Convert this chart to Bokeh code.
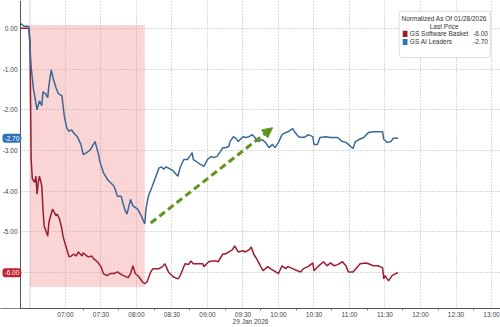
import pandas as pd
from bokeh.plotting import figure
from bokeh.models import (Range1d, FixedTicker, DatetimeTickFormatter, Label,
                          BoxAnnotation, Arrow, NormalHead, Span)
from bokeh.embed import file_html
from bokeh.resources import INLINE

DAY = "2026-01-29"

# GS AI Leaders (normalized as of 01/28/2026)
ai_times = ["06:22","06:25","06:29","06:31","06:33","06:35","06:36","06:38","06:40","06:41",
            "06:43","06:45","06:46","06:48","06:50","06:52","06:54","06:57","06:59","07:01",
            "07:03","07:05","07:08","07:10","07:13","07:15","07:18","07:21","07:25","07:28",
            "07:29","07:32","07:36","07:41","07:44","07:47","07:50","07:52","07:55","07:57",
            "08:01","08:04","08:07","08:08","08:10","08:13","08:16","08:19","08:21","08:23",
            "08:25","08:29","08:31","08:35","08:37","08:40","08:43","08:46","08:47","08:48",
            "08:52","08:54","08:57","09:00","09:03","09:05","09:08","09:11","09:13","09:15",
            "09:18","09:19","09:22","09:25","09:26","09:30","09:32","09:35","09:38","09:40",
            "09:43","09:46","09:49","09:52","09:55","09:57","10:00","10:03","10:06","10:08",
            "10:12","10:14","10:17","10:20","10:23","10:25","10:29","10:30","10:33","10:35",
            "10:40","10:44","10:50","10:54","10:57","10:59","11:01","11:03","11:05","11:08",
            "11:12","11:16","11:20","11:24","11:28","11:29","11:32","11:35","11:37","11:41"]
ai_values = [0.12,0.05,0.05,-0.95,-1.50,-1.83,-2.00,-1.78,-1.90,-1.56,
             -1.60,-1.70,-1.40,-1.02,-1.27,-1.46,-1.60,-1.66,-2.15,-2.44,
             -2.53,-2.49,-2.60,-2.66,-2.85,-3.10,-3.05,-2.98,-2.78,-3.10,
             -3.26,-3.54,-3.73,-3.87,-4.12,-4.12,-4.44,-4.56,-4.20,-4.36,
             -4.44,-4.60,-4.80,-4.44,-4.12,-3.90,-3.67,-3.43,-3.40,-3.46,
             -3.40,-3.46,-3.50,-3.63,-3.41,-3.22,-3.22,-3.10,-3.05,-3.22,
             -3.30,-3.34,-3.39,-3.22,-3.15,-3.17,-3.15,-3.02,-2.93,-2.93,
             -2.90,-2.78,-2.66,-2.73,-2.78,-2.66,-2.68,-2.66,-2.61,-2.68,
             -2.78,-2.73,-2.80,-2.93,-2.85,-2.93,-2.80,-2.61,-2.56,-2.54,
             -2.46,-2.56,-2.66,-2.68,-2.66,-2.61,-2.66,-2.85,-2.85,-2.68,
             -2.66,-2.68,-2.68,-2.78,-2.80,-2.85,-2.90,-2.95,-2.78,-2.73,
             -2.68,-2.56,-2.54,-2.54,-2.54,-2.73,-2.80,-2.78,-2.70,-2.70]

# GS Software Basket
sw_times = ["06:22","06:29","06:30","06:31","06:32","06:34","06:35","06:36","06:37","06:38",
            "06:40","06:41","06:42","06:45","06:46","06:49","06:50","06:52","06:53","06:55",
            "06:57","06:58","07:01","07:03","07:05","07:07","07:09","07:11","07:14","07:15",
            "07:18","07:20","07:22","07:24","07:27","07:30","07:32","07:35","07:38","07:41",
            "07:44","07:46","07:49","07:53","07:55","07:57","07:59","08:02","08:05","08:07",
            "08:09","08:12","08:14","08:19","08:22","08:24","08:27","08:31","08:35","08:37",
            "08:41","08:44","08:46","08:48","08:52","08:56","08:57","09:01","09:04","09:07",
            "09:09","09:13","09:15","09:18","09:21","09:23","09:26","09:30","09:32","09:35",
            "09:37","09:39","09:42","09:45","09:47","09:51","09:53","09:56","10:00","10:03",
            "10:06","10:08","10:12","10:16","10:19","10:21","10:25","10:29","10:30","10:34",
            "10:38","10:41","10:44","10:47","10:50","10:54","10:57","10:59","11:03","11:07",
            "11:09","11:14","11:16","11:20","11:24","11:28","11:29","11:30","11:33","11:36",
            "11:39","11:41"]
sw_values = [0.00,0.00,-0.30,-3.20,-3.70,-3.78,-3.63,-4.07,-3.78,-3.63,
             -3.87,-4.44,-4.85,-5.10,-4.76,-4.44,-4.49,-4.60,-4.56,-4.68,
             -4.93,-5.12,-5.41,-5.61,-5.59,-5.54,-5.59,-5.49,-5.59,-5.51,
             -5.59,-5.61,-5.59,-5.66,-5.73,-5.85,-6.02,-6.07,-6.02,-6.02,
             -5.98,-6.02,-6.07,-6.12,-6.02,-5.83,-6.02,-6.10,-6.22,-6.27,
             -6.22,-5.98,-5.90,-5.90,-5.85,-5.78,-5.98,-6.10,-6.15,-6.07,
             -5.78,-5.80,-5.71,-5.78,-5.78,-5.78,-5.85,-5.73,-5.71,-5.71,
             -5.73,-5.54,-5.54,-5.49,-5.44,-5.34,-5.49,-5.46,-5.49,-5.44,
             -5.37,-5.54,-5.68,-5.85,-5.95,-5.85,-5.90,-5.95,-6.02,-5.83,
             -5.90,-5.85,-5.90,-5.95,-5.98,-5.90,-5.85,-5.76,-5.95,-5.83,
             -5.73,-5.83,-5.76,-5.83,-5.80,-5.73,-5.83,-5.98,-5.98,-5.85,
             -5.78,-5.76,-5.78,-5.83,-5.83,-5.88,-6.15,-6.07,-6.20,-6.07,
             -6.02,-6.00]

# shaded selloff window
shade_start = ["06:30"]
shade_end = ["08:07"]
shade_top = [0.08]
shade_bottom = [-6.35]

# trend arrow
arrow_start = ("08:12", -4.78)
arrow_end = ("09:55", -2.44)

tick_labels = ["07:00","07:30","08:00","08:30","09:00","09:30","10:00","10:30",
               "11:00","11:30","12:00","12:30","13:00"]
y_ticks = [0, -1, -2, -3, -4, -5, -6]

last_sw = -6.00
last_ai = -2.70

FONT = "Liberation Sans"
BLUE = "#3a6896"
RED = "#9e1c2f"
AXIS = "#555555"


def ts(hm):
    return pd.Timestamp(f"{DAY} {hm}")


def ms(hm):
    return ts(hm).value / 1e6


view_start, axis_at, view_end = "06:05:06", "06:22", "13:07:36"

p = figure(width=500, height=327, output_backend="svg", toolbar_location=None,
           x_axis_type="datetime",
           x_range=Range1d(ts(view_start), ts(view_end)),
           y_range=Range1d(-6.878, 0.683),
           min_border_left=0, min_border_right=0, min_border_top=0,
           min_border_bottom=0)
p.outline_line_color = None
p.background_fill_color = "white"
p.border_fill_color = "white"
p.yaxis.visible = False

# shaded box
p.quad(left=[ts(t) for t in shade_start], right=[ts(t) for t in shade_end],
       top=shade_top, bottom=shade_bottom, fill_color="#f08a8a", fill_alpha=0.36,
       line_color=None)

p.add_layout(Span(location=ms("06:30"), dimension="height", line_color="#d5d5d5",
                  line_width=1, level="underlay"))

p.line([ts(t) for t in sw_times], sw_values, line_color=RED, line_width=1.5)
p.line([ts(t) for t in ai_times], ai_values, line_color=BLUE, line_width=1.5)

p.add_layout(Arrow(x_start=ms(arrow_start[0]), y_start=arrow_start[1],
                   x_end=ms(arrow_end[0]), y_end=arrow_end[1],
                   line_color="#5f9420", line_width=3, line_dash="7 4",
                   end=NormalHead(size=10, fill_color="#5f9420", line_color="#5f9420")))

# value-axis gutter (left of the axis line): white, then axis line, ticks and labels
p.add_layout(BoxAnnotation(right=ms(axis_at), fill_color="white", fill_alpha=1,
                           line_color=None))
p.add_layout(Span(location=ms(axis_at), dimension="height", line_color=AXIS,
                  line_width=1))
p.scatter(x=[ts(axis_at) - pd.Timedelta(seconds=50)] * len(y_ticks), y=y_ticks,
          marker="dash", size=3, line_color=AXIS)
for t in y_ticks:
    p.add_layout(Label(x=ms(axis_at), x_offset=-3, y=t, text=f"{t:.2f}",
                       text_font=FONT, text_font_size="6.5px", text_color="#444444",
                       text_align="right", text_baseline="middle"))

# last-value tags on the value axis
for val, col in ((last_ai, "#2f73b5"), (last_sw, "#c0232f")):
    p.add_layout(Label(x=ms(view_start), x_offset=2, y=val, text=f"{val:.2f}",
                       text_font=FONT, text_font_size="6.5px", text_color="white",
                       text_baseline="middle", text_align="left",
                       background_fill_color=col, border_radius=3, padding=2))

# time axis
p.xaxis.ticker = FixedTicker(ticks=[ms(t) for t in tick_labels],
                             minor_ticks=[ms(t) + 15 * 60000 for t in tick_labels])
p.xaxis.formatter = DatetimeTickFormatter(minutes="%H:%M", hours="%H:%M",
                                          hourmin="%H:%M")
p.xaxis.axis_label = "29 Jan 2026"
p.xaxis.axis_label_text_font = FONT
p.xaxis.axis_label_text_font_size = "6.5px"
p.xaxis.axis_label_text_font_style = "normal"
p.xaxis.axis_label_text_color = "#444444"
p.xaxis.axis_label_standoff = -3
p.xaxis.major_tick_out = 0
p.xaxis.major_tick_in = 0
p.xaxis.minor_tick_out = 2
p.xaxis.minor_tick_in = 0
p.xaxis.major_label_standoff = 0
p.xaxis.major_label_text_font = FONT
p.xaxis.major_label_text_font_size = "6.5px"
p.xaxis.major_label_text_color = "#444444"
p.xaxis.axis_line_color = AXIS
p.xaxis.minor_tick_line_color = "#777777"

p.xgrid.grid_line_color = "#b5b5b5"
p.xgrid.grid_line_dash = "1 2"
p.ygrid.ticker = FixedTicker(ticks=y_ticks)
p.ygrid.grid_line_color = "#b5b5b5"
p.ygrid.grid_line_dash = "1 2"

# legend box
p.add_layout(BoxAnnotation(left=ms("11:42"), right=ms("12:59"), top=0.42, bottom=-0.72,
                           fill_color="white", fill_alpha=1, line_color="#8a8a8a",
                           line_width=1, border_radius=3))
lg_center = ms("12:20")
for txt, yy in (("Normalized As Of 01/28/2026", 0.24), ("Last Price", 0.05)):
    p.add_layout(Label(x=lg_center, y=yy, text=txt, text_font=FONT,
                       text_font_size="6.5px", text_color="#333333",
                       text_align="center", text_baseline="middle"))
for name, val, col, yy in (("GS Software Basket", last_sw, RED, -0.13),
                           ("GS AI Leaders", last_ai, "#2f73b5", -0.33)):
    p.add_layout(BoxAnnotation(left=ms("11:45"), right=ms("11:49"), top=yy + 0.07,
                               bottom=yy - 0.08, fill_color=col, fill_alpha=1,
                               line_color=None))
    p.add_layout(Label(x=ms("11:51"), y=yy, text=name, text_font=FONT,
                       text_font_size="6.5px", text_color="#333333",
                       text_align="left", text_baseline="middle"))
    p.add_layout(Label(x=ms("12:57"), y=yy, text=f"{val:.2f}", text_font=FONT,
                       text_font_size="6.5px", text_color="#333333",
                       text_align="right", text_baseline="middle"))

open("out.html", "w").write(file_html(p, INLINE))
